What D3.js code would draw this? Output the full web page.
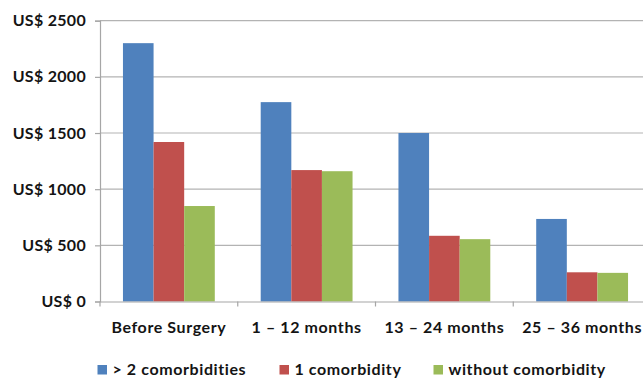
<!DOCTYPE html>
<html>
<head>
<meta charset="utf-8">
<script src="https://cdn.jsdelivr.net/npm/d3@7"></script>
<style>
  html, body { margin: 0; padding: 0; background: #fff; }
  svg { display: block; }
  text { font-family: Lato, "Open Sans", sans-serif; font-weight: bold; fill: #141414; }
</style>
</head>
<body>
<svg id="chart" width="643" height="379"></svg>
<script>
// Average cost per patient by period and comorbidity group
const periods = ["Before Surgery", "1 – 12 months", "13 – 24 months", "25 – 36 months"];
const seriesNames = ["> 2 comorbidities", "1 comorbidity", "without comorbidity"];
const moreThanTwo = [2300, 1775, 1500, 735];
const oneComorbidity = [1420, 1170, 585, 260];
const noComorbidity = [850, 1160, 555, 255];
const yTicks = [0, 500, 1000, 1500, 2000, 2500];
const colors = ["#4F81BD", "#C0504D", "#9BBB59"];

const series = [moreThanTwo, oneComorbidity, noComorbidity];

const svg = d3.select("#chart");
const plotLeft = 100, plotRight = 651, plotTop = 20.7, plotBottom = 301.5;

const x = d3.scaleBand().domain(periods).range([plotLeft, plotRight]).paddingInner(0).paddingOuter(0);
const y = d3.scaleLinear().domain([0, 2500]).range([plotBottom, plotTop]);
// gap width of 150%: three bars + 1.5 bar widths of gap per band
const barW = x.bandwidth() / (series.length + 1.5);
const xs = d3.scaleBand().domain(d3.range(series.length))
  .range([barW * 0.75, barW * 0.75 + barW * series.length]);

// horizontal gridlines
svg.append("g")
  .selectAll("line")
  .data(yTicks.filter(d => d > 0))
  .join("line")
  .attr("x1", plotLeft).attr("x2", 643)
  .attr("y1", d => y(d)).attr("y2", d => y(d))
  .attr("stroke", "#b3b3b3").attr("stroke-width", 1.2);

// bars
svg.append("g")
  .selectAll("g")
  .data(series)
  .join("g")
  .attr("fill", (d, i) => colors[i])
  .each(function(vals, si) {
    d3.select(this).selectAll("rect")
      .data(vals)
      .join("rect")
      .attr("x", (v, ci) => x(periods[ci]) + xs(si))
      .attr("width", xs.bandwidth())
      .attr("y", v => y(v))
      .attr("height", v => y(0) - y(v));
  });

// y axis
const yAxis = svg.append("g")
  .attr("transform", `translate(${plotLeft},0)`)
  .call(d3.axisLeft(y).tickValues(yTicks).tickSize(5).tickPadding(9)
    .tickFormat(d => "US$ " + d));
yAxis.select(".domain").attr("stroke", "#a6a6a6").attr("stroke-width", 1.2);
yAxis.selectAll(".tick line").attr("stroke", "#a6a6a6").attr("stroke-width", 1.2);
yAxis.selectAll(".tick text").attr("font-size", 16).attr("font-family", null)
  .attr("fill", "#141414").attr("letter-spacing", 0.3);

// x axis
const xAxis = svg.append("g")
  .attr("transform", `translate(0,${plotBottom})`)
  .call(d3.axisBottom(x).tickSize(0).tickPadding(0));
xAxis.select(".domain").attr("stroke", "#a6a6a6").attr("stroke-width", 1.2);
xAxis.selectAll(".tick text").attr("font-size", 16).attr("font-family", null)
  .attr("fill", "#141414").attr("letter-spacing", 0.6).attr("dy", null).attr("y", 31.5);
// category boundary ticks
svg.append("g")
  .selectAll("line")
  .data(periods)
  .join("line")
  .attr("x1", d => x(d)).attr("x2", d => x(d))
  .attr("y1", plotBottom).attr("y2", plotBottom + 5)
  .attr("stroke", "#a6a6a6").attr("stroke-width", 1.2);

// legend
const legendX = [97.5, 279.5, 433.5];
const legend = svg.append("g")
  .selectAll("g")
  .data(seriesNames)
  .join("g")
  .attr("transform", (d, i) => `translate(${legendX[i]},365)`);
legend.append("rect").attr("width", 9.5).attr("height", 9.5)
  .attr("fill", (d, i) => colors[i]);
legend.append("text").attr("x", 15).attr("y", 9.8)
  .attr("font-size", 16).attr("letter-spacing", 0.6).text(d => d);
</script>
</body>
</html>
